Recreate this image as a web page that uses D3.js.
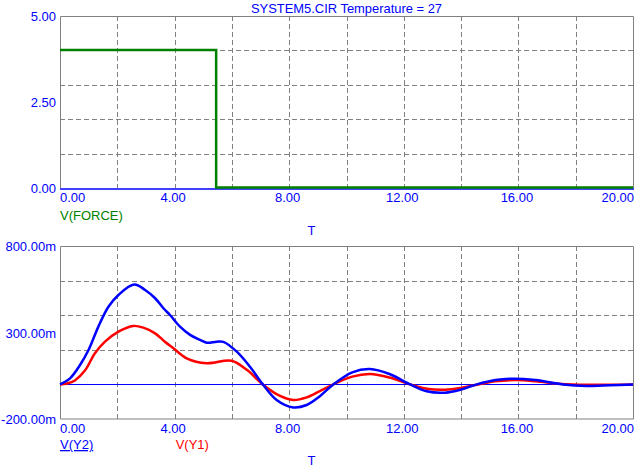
<!DOCTYPE html>
<html><head><meta charset="utf-8">
<script src="https://cdn.jsdelivr.net/npm/d3@7"></script>
<style>
html,body{margin:0;padding:0;background:#fff;}
svg text{font-family:"Liberation Sans",Arial,sans-serif;font-size:13px;}
</style></head>
<body>
<svg id="c" width="641" height="467"></svg>
<script>
// ---- data ----
const title = "SYSTEM5.CIR Temperature = 27";
const xTickVals = [0, 4, 8, 12, 16, 20];
const xTickLabels = ["0.00", "4.00", "8.00", "12.00", "16.00", "20.00"];
const topTickVals = [0, 2.5, 5];
const topTickLabels = ["0.00", "2.50", "5.00"];
const botTickVals = [-0.2, 0.3, 0.8];
const botTickLabels = ["-200.00m", "300.00m", "800.00m"];

const forceT = [0, 5.45, 20];
const forceV = [4, 0, 0];

const y2T = [0, 0.35, 0.7, 1.0, 1.34, 1.69, 2.04, 2.59, 2.97, 3.32, 3.61, 3.84, 4.19, 4.54, 4.89, 5.12, 5.47, 5.7, 6.17, 6.63, 7.08, 7.56, 8.14, 8.61, 9.07, 9.54, 10.2, 10.82, 11.5, 12.22, 12.8, 13.44, 14.0, 14.55, 15.2, 15.82, 16.6, 17.56, 18.38, 19.2, 20];
const y2V = [0, 0.035, 0.112, 0.2, 0.334, 0.449, 0.517, 0.577, 0.546, 0.498, 0.44, 0.401, 0.334, 0.286, 0.257, 0.241, 0.247, 0.246, 0.189, 0.102, 0, -0.09, -0.133, -0.119, -0.068, 0, 0.07, 0.089, 0.06, 0, -0.04, -0.048, -0.03, 0, 0.025, 0.033, 0.025, 0, -0.009, -0.005, 0];

const y1T = [0, 0.25, 0.52, 0.87, 1.22, 1.57, 2.04, 2.56, 2.91, 3.32, 3.66, 3.96, 4.42, 5.12, 5.99, 6.52, 7.08, 7.68, 8.14, 8.61, 9.07, 9.54, 10.2, 10.82, 11.5, 12.22, 12.8, 13.44, 14.0, 14.6, 15.2, 15.9, 16.6, 17.5, 18.4, 20];
const y1V = [0, 0.005, 0.023, 0.08, 0.18, 0.247, 0.305, 0.338, 0.328, 0.295, 0.247, 0.209, 0.151, 0.122, 0.137, 0.084, 0, -0.067, -0.09, -0.075, -0.039, 0, 0.045, 0.06, 0.04, 0, -0.025, -0.031, -0.02, 0, 0.018, 0.025, 0.018, 0.003, -0.002, 0];

// ---- drawing ----
const svg = d3.select("#c");
const BLUE = "#0000ff", GRID = "#808080";
const L = 60, R = 633;
const x = d3.scaleLinear().domain([0, 20]).range([L, R]);
const yTop = d3.scaleLinear().domain([0, 5]).range([188, 16]);
const yBot = d3.scaleLinear().domain([-0.2, 0.8]).range([419, 246]);
const gridT = d3.range(2, 20, 2);

svg.append("text").attr("x", 251).attr("y", 13)
  .attr("textLength", 191).attr("lengthAdjust", "spacingAndGlyphs")
  .attr("fill", BLUE).text(title);

function panel(y, hGrid, tickVals, tickLabels, bottomBorder) {
  const g = svg.append("g");
  const [y0, y1] = y.range(); // bottom, top
  g.selectAll(".hg").data(hGrid).join("line")
    .attr("x1", L).attr("x2", R)
    .attr("y1", d => Math.round(y(d)) + 0.5).attr("y2", d => Math.round(y(d)) + 0.5)
    .attr("stroke", GRID).attr("stroke-dasharray", "5,3");
  g.selectAll(".vg").data(gridT).join("line")
    .attr("x1", d => Math.round(x(d)) + 0.5).attr("x2", d => Math.round(x(d)) + 0.5)
    .attr("y1", y1).attr("y2", y0)
    .attr("stroke", GRID).attr("stroke-dasharray", "5,3");
  g.append("path")
    .attr("d", `M${L + 0.5},${y0}V${y1 + 0.5}H${R + 0.5}V${y0}` + (bottomBorder ? `H${L + 0.5}` : ""))
    .attr("fill", "none").attr("stroke", GRID);
  g.selectAll(".yl").data(tickVals).join("text")
    .attr("x", 56).attr("y", d => y(d) + 5.3).attr("text-anchor", "end")
    .attr("fill", BLUE).text((d, i) => tickLabels[i]);
  g.selectAll(".xl").data(xTickVals).join("text")
    .attr("x", (d, i) => i === 0 ? L : (i === xTickVals.length - 1 ? R + 1 : x(d) - 1.5))
    .attr("y", y0 + 14)
    .attr("text-anchor", (d, i) => i === 0 ? "start" : (i === xTickVals.length - 1 ? "end" : "middle"))
    .attr("fill", BLUE).text((d, i) => xTickLabels[i]);
  return g;
}

// top panel
const gt = panel(yTop, [1, 2, 3, 4], topTickVals, topTickLabels, false);
gt.append("line").attr("x1", L).attr("x2", R + 1).attr("y1", 189).attr("y2", 189)
  .attr("stroke", BLUE).attr("stroke-width", 1.5);
const forceData = forceT.map((t, i) => [t, forceV[i]]);
gt.append("path").datum(forceData)
  .attr("d", d3.line().x(d => x(d[0])).y(d => yTop(d[1]) - 0.5).curve(d3.curveStepAfter))
  .attr("fill", "none").attr("stroke", "#008000").attr("stroke-width", 2.5);
svg.append("text").attr("x", L).attr("y", 220).attr("fill", "#008000").text("V(FORCE)");
svg.append("text").attr("x", 311.5).attr("y", 235).attr("text-anchor", "middle").attr("fill", BLUE).text("T");

// bottom panel
const gb = panel(yBot, [0, 0.2, 0.4, 0.6], botTickVals, botTickLabels, true);
gb.append("line").attr("x1", L).attr("x2", R).attr("y1", Math.round(yBot(0)) + 0.5).attr("y2", Math.round(yBot(0)) + 0.5)
  .attr("stroke", BLUE);
const line = d3.line().x(d => x(d[0])).y(d => yBot(d[1])).curve(d3.curveCatmullRom.alpha(0.5));
gb.append("path").datum(y1T.map((t, i) => [t, y1V[i]]))
  .attr("d", line).attr("fill", "none").attr("stroke", "#ff0000").attr("stroke-width", 2.5);
gb.append("path").datum(y2T.map((t, i) => [t, y2V[i]]))
  .attr("d", line).attr("fill", "none").attr("stroke", BLUE).attr("stroke-width", 2.5);

svg.append("text").attr("x", L).attr("y", 449).attr("fill", BLUE)
  .attr("text-decoration", "underline").text("V(Y2)");
svg.append("text").attr("x", 175.7).attr("y", 449).attr("fill", "#ff0000").text("V(Y1)");
svg.append("text").attr("x", 311.5).attr("y", 465).attr("text-anchor", "middle").attr("fill", BLUE).text("T");
</script>
</body></html>
